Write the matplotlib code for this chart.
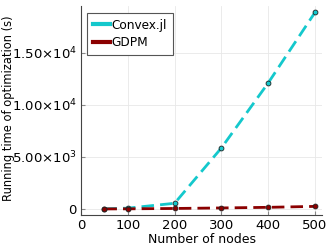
import matplotlib
matplotlib.use('Agg')
import matplotlib.pyplot as plt
from matplotlib.lines import Line2D

# Running time vs. number of nodes
nodes = [50, 100, 200, 300, 400, 500]
convex_time = [20, 80, 550, 5870, 12120, 18900]
gdpm_time = [5, 15, 50, 100, 160, 250]

series_names = ['Convex.jl', 'GDPM']
series_colors = ['#14C8CC', '#8B0000']

x_ticks = [0, 100, 200, 300, 400, 500]
y_ticks = [0, 5000, 10000, 15000]
y_tick_labels = ['0', r'$5.00{\times}10^{3}$', r'$1.00{\times}10^{4}$', r'$1.50{\times}10^{4}$']

fig = plt.figure(figsize=(3.32, 2.49), dpi=100)
ax = fig.add_axes([0.244, 0.137, 0.726, 0.837])

for ys, c in zip([convex_time, gdpm_time], series_colors):
    ax.plot(nodes, ys, color=c, lw=2, dashes=(4.5, 2.2), zorder=3)
    ax.plot(nodes, ys, linestyle='none', marker='o', ms=3.5, mfc=c,
            mec='#202020', mew=0.6, zorder=4)

ax.set_xlim(0, 515)
ax.set_ylim(-567, 19467)
ax.set_xticks(x_ticks)
ax.set_yticks(y_ticks)
ax.set_yticklabels(y_tick_labels)
ax.grid(True, color='#e8e8e8', lw=0.6)
ax.set_axisbelow(True)

ax.spines['top'].set_visible(False)
ax.spines['right'].set_visible(False)
ax.spines['left'].set_color('#444444')
ax.spines['bottom'].set_color('#444444')
ax.tick_params(direction='in', length=3, color='#888888', labelsize=9.5, pad=3)

ax.set_xlabel('Number of nodes', fontsize=9, labelpad=1)
ax.set_ylabel('Running time of optimization (s)', fontsize=8.3, labelpad=1)
ax.yaxis.set_label_coords(-0.275, 0.51)

handles = [Line2D([0], [0], color=c, lw=3) for c in series_colors]
leg = ax.legend(handles, series_names, loc='upper left', fontsize=8.7,
                fancybox=False, framealpha=1, edgecolor='#555555',
                handlelength=1.4, handletextpad=0.1, borderpad=0.5,
                labelspacing=0.35, borderaxespad=0.5)
leg.get_frame().set_linewidth(0.8)

fig.savefig('out.png', dpi=100)
